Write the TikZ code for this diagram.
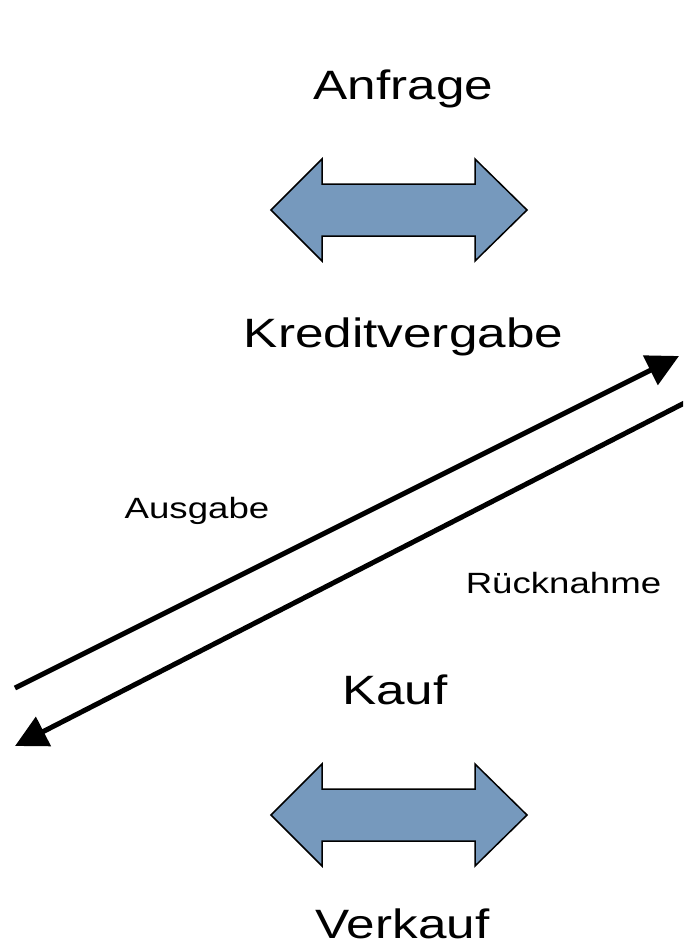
\documentclass[tikz,border=0pt]{standalone}
\usepackage{fontspec}
\setmainfont{Liberation Sans}
\newfontfamily\widesans[FakeStretch=1.25]{Liberation Sans}
\usetikzlibrary{arrows.meta}
\definecolor{arrowblue}{RGB}{118,153,189}
\tikzset{
  bigtext/.style={anchor=base, inner sep=0pt, font=\widesans\fontsize{41}{49}\selectfont},
  smalltext/.style={anchor=base, inner sep=0pt, font=\widesans\fontsize{29.3}{35}\selectfont},
  dblarrow/.style={draw=black, fill=arrowblue, line width=1.5pt, line join=miter},
  flow/.style={line width=5pt, -{Triangle[length=32pt,width=32pt]}}
}
\newcommand{\dblarrowat}[1]{%
  \draw[dblarrow, shift={(0,#1)}]
    (271,0) -- (322,-51) -- (322,-26) -- (475,-26) -- (475,-51) -- (527,0)
    -- (475,51) -- (475,26) -- (322,26) -- (322,51) -- cycle;}
\begin{document}
\begin{tikzpicture}[x=1pt, y=-1pt]
  \useasboundingbox (0,0) rectangle (683,948);
  \clip (0,0) rectangle (683,948);

  % labels
  \node[bigtext] (anfrage) at (403.5,99) {Anfrage};
  \node[bigtext] (kredit) at (403.5,347) {Kreditvergabe};
  \node[smalltext] (ausgabe) at (197,518) {Ausgabe};
  \node[smalltext] (ruecknahme) at (563.5,593) {Rücknahme};
  \node[bigtext] (kauf) at (395,704) {Kauf};
  \node[bigtext] (verkauf) at (402.5,938) {Verkauf};

  % two-way exchange arrows
  \dblarrowat{210}
  \dblarrowat{815}

  % issue and return flows
  \coordinate (issueStart) at (15,688);
  \coordinate (issueEnd) at (679,356);
  \coordinate (returnStart) at (700,395);
  \coordinate (returnEnd) at (15,746);
  \draw[flow] (issueStart) -- (issueEnd);
  \draw[flow] (returnStart) -- (returnEnd);
\end{tikzpicture}
\end{document}
